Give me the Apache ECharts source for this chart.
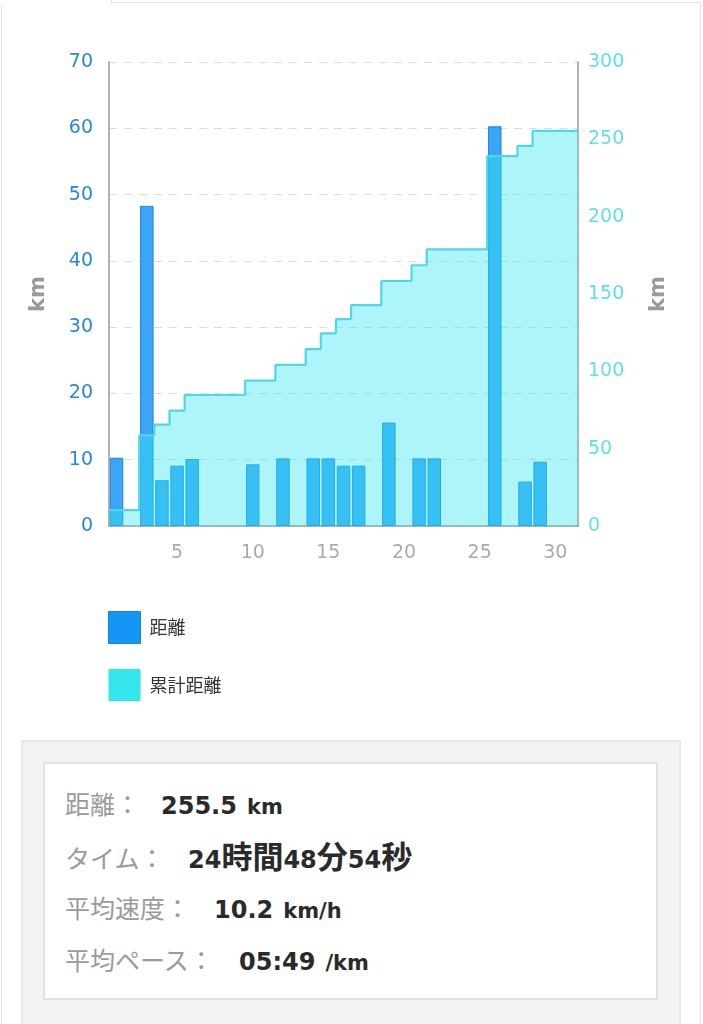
<!DOCTYPE html>
<html>
<head>
<meta charset="utf-8">
<script src="https://cdn.jsdelivr.net/npm/echarts@6/dist/echarts.min.js"></script>
<style>
  html, body { margin: 0; padding: 0; background: #fff; }
  body { width: 703px; height: 1024px; position: relative; overflow: hidden; font-family: "DejaVu Sans", sans-serif; }
  #panel { position: absolute; left: 1px; top: 2px; width: 698px; height: 1030px; border: 1px solid #e3e3e3; }
  #tab { position: absolute; left: 0; top: 0; width: 111px; height: 4px; background: #fff; border-right: 1px solid #e3e3e3; }
  #chart { position: absolute; left: 0; top: 0; width: 703px; height: 730px; }
  #outer { position: absolute; left: 21px; top: 740px; width: 656px; height: 300px; background: #f3f3f3; border: 2px solid #e8e8e8; }
  #inner { position: absolute; left: 20px; top: 20px; width: 611px; height: 234px; background: #fff; border: 2px solid #e2e2e2; }
  .row { position: absolute; left: 20px; height: 40px; line-height: 40px; white-space: nowrap; }
  .lab { color: #9a9a9a; font-family: "Noto Sans CJK JP", sans-serif; font-size: 25px; display: inline-block; }
  .val { color: #2a2a2a; font-weight: bold; font-size: 24px; font-family: "DejaVu Sans", sans-serif; display: inline-block; }
  .cj { font-family: "Noto Sans CJK JP", sans-serif; font-size: 31px; font-weight: bold; }
  .unit { color: #2a2a2a; font-weight: bold; font-size: 21px; font-family: "DejaVu Sans", sans-serif; margin-left: 10px; }
</style>
</head>
<body>
<div id="panel"></div>
<div id="tab"></div>
<div id="chart"></div>
<div id="outer">
  <div id="inner">
    <div class="row" style="top:19px"><span class="lab" style="width:96px">距離：</span><span class="val">255.5</span><span class="unit">km</span></div>
    <div class="row" style="top:71px"><span class="lab" style="width:123px">タイム：</span><span class="val">24<span class="cj">時間</span>48<span class="cj">分</span>54<span class="cj">秒</span></span></div>
    <div class="row" style="top:123px"><span class="lab" style="width:149px">平均速度：</span><span class="val">10.2</span><span class="unit">km/h</span></div>
    <div class="row" style="top:175px"><span class="lab" style="width:174px">平均ペース：</span><span class="val">05:49</span><span class="unit">/km</span></div>
  </div>
</div>
<script>
const days = Array.from({length: 31}, (_, i) => String(i + 1));
// null = no run that day
const distance = [10.3, null, 48.3, 6.9, 9.1, 10.1, null, null, null, 9.3, null, 10.2, null, 10.2, 10.2, 9.1, 9.1, null, 15.6, null, 10.2, 10.2, null, null, null, 60.3, null, 6.7, 9.7, null, null];
const cumulative = [10.3, 10.3, 58.6, 65.5, 74.6, 84.7, 84.7, 84.7, 84.7, 94.0, 94.0, 104.2, 104.2, 114.4, 124.6, 133.7, 142.8, 142.8, 158.4, 158.4, 168.6, 178.8, 178.8, 178.8, 178.8, 239.1, 239.1, 245.8, 255.5, 255.5, 255.5];
const seriesNames = ['距離', '累計距離'];

// step points placed on category boundaries (index-based positions on the hidden value axis)
const stepData = cumulative.map((v, i) => [i + 0.5, v]);
stepData.push([cumulative.length + 0.5, cumulative[cumulative.length - 1]]);

const chart = echarts.init(document.getElementById('chart'), null, {renderer: 'canvas'});
chart.setOption({
  animation: false,
  textStyle: { fontFamily: 'DejaVu Sans' },
  legend: {
    orient: 'vertical',
    left: 108, top: 611, padding: 0,
    itemWidth: 32, itemHeight: 32, itemGap: 25,
    icon: 'rect',
    textStyle: { fontSize: 18, color: '#333', fontFamily: 'Noto Sans CJK JP', padding: [0, 0, 0, 4] },
    data: [
      { name: seriesNames[0], itemStyle: { color: '#1595f5', borderColor: '#1a84d8', borderWidth: 1 } },
      { name: seriesNames[1], itemStyle: { color: '#33e6ee', borderWidth: 0 } }
    ]
  },
  grid: { left: 109, right: 125, top: 62, height: 464 },
  xAxis: [
    {
      type: 'category', data: days, boundaryGap: true,
      axisLine: { lineStyle: { color: '#999', width: 1.5 } },
      axisTick: { show: false },
      axisLabel: { color: '#aaa', fontSize: 19, margin: 18, interval: (i) => (i + 1) % 5 === 0 }
    },
    { type: 'value', min: 0.5, max: 31.5, show: false }
  ],
  yAxis: [
    {
      type: 'value', min: 0, max: 70, interval: 10,
      name: 'km', nameLocation: 'middle', nameGap: 60, nameRotate: 90,
      nameTextStyle: { color: '#999', fontSize: 21, fontWeight: 'bold' },
      axisLine: { show: true, lineStyle: { color: '#999', width: 1.5 } },
      axisTick: { show: false },
      axisLabel: { color: '#2a86d8', fontSize: 19, margin: 16 },
      splitLine: { lineStyle: { color: '#dcdcdc', type: [8, 7], width: 1.2 } }
    },
    {
      type: 'value', min: 0, max: 300, interval: 50,
      name: 'km', nameLocation: 'middle', nameGap: 70, nameRotate: 90,
      nameTextStyle: { color: '#999', fontSize: 21, fontWeight: 'bold' },
      axisLine: { show: true, lineStyle: { color: '#999', width: 1.5 } },
      axisTick: { show: false },
      axisLabel: { color: '#5ee0ea', fontSize: 19, margin: 10 },
      splitLine: { show: false }
    }
  ],
  series: [
    {
      name: seriesNames[0], type: 'bar', data: distance,
      xAxisIndex: 0, yAxisIndex: 0, barWidth: '89%',
      itemStyle: { color: 'rgba(21,149,245,0.84)', borderColor: '#1c86da', borderWidth: 1 }
    },
    {
      name: seriesNames[1], type: 'line', data: stepData,
      xAxisIndex: 1, yAxisIndex: 1, step: 'end', symbol: 'none',
      lineStyle: { color: '#52d6e6', width: 2.2 },
      itemStyle: { color: '#33e6ee' },
      areaStyle: { color: 'rgba(51,230,238,0.4)', opacity: 1, origin: 'start' }
    }
  ]
});
</script>
</body>
</html>
